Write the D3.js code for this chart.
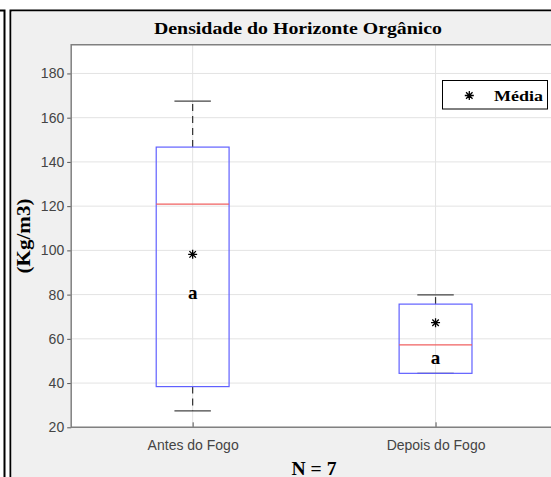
<!DOCTYPE html>
<html><head><meta charset="utf-8">
<script src="https://cdn.jsdelivr.net/npm/d3@7"></script>
<style>html,body{margin:0;padding:0;background:#fff;overflow:hidden;width:551px;height:477px;}svg{display:block;overflow:hidden;}</style>
</head><body>
<script>
const categories = ["Antes do Fogo", "Depois do Fogo"];
const whiskerLow = [27.4, 44.4];
const q1 = [38.4, 44.4];
const medians = [120.9, 57.3];
const q3 = [146.7, 75.7];
const whiskerHigh = [167.5, 79.9];
const means = [98.2, 67.3];
const groupLetters = ["a", "a"];
const letterValues = [80.7, 50.9];
const yTicks = [20, 40, 60, 80, 100, 120, 140, 160, 180];
const titleText = "Densidade do Horizonte Orgânico";
const yLabel = "(Kg/m3)";
const xLabel = "N = 7";
const legendLabel = "Média";

(function () {
const W = 551, H = 477;
const svg = d3.select("body").append("svg").attr("width", W).attr("height", H);
const clip = svg.append("defs").append("clipPath").attr("id", "pg");
clip.append("rect").attr("x", 0).attr("y", 0).attr("width", W).attr("height", H);
const root = svg.append("g").attr("clip-path", "url(#pg)");

const serif = "Liberation Serif, Times New Roman, serif";
const sans = "Liberation Sans, Arial, sans-serif";

// outer frames
root.append("path").attr("d", "M0,10.5 H4.5 V480").attr("fill", "none").attr("stroke", "#000").attr("stroke-width", 2);
root.append("path").attr("d", `M${W + 10},10.5 H10.5 V${H + 10}`).attr("fill", "none").attr("stroke", "#000").attr("stroke-width", 2);
root.append("rect").attr("x", 11.5).attr("y", 11.5).attr("width", W).attr("height", H).attr("fill", "#f0f0f0");

const pL = 71.2, pR = 557, pT = 44.7, pB = 427.3;
const x = d3.scaleLinear().domain([0.5, 2.5]).range([pL, pR]);
const y = d3.scaleLinear().domain([20, 193]).range([pB, pT]);

root.append("rect").attr("x", pL).attr("y", pT).attr("width", W + 20 - pL).attr("height", pB - pT).attr("fill", "#fff");

// grid
const g = root.append("g");
g.selectAll("line.hg").data(yTicks).join("line")
  .attr("x1", pL).attr("x2", W + 20).attr("y1", d => y(d)).attr("y2", d => y(d))
  .attr("stroke", "#e3e3e3").attr("stroke-width", 1);
g.selectAll("line.vg").data(categories).join("line")
  .attr("x1", (d, i) => x(i + 1)).attr("x2", (d, i) => x(i + 1)).attr("y1", pT).attr("y2", pB)
  .attr("stroke", "#e3e3e3").attr("stroke-width", 1);

// axes
const yAxis = d3.axisLeft(y).tickValues(yTicks).tickSize(4).tickPadding(3).tickFormat(d3.format("d"));
const ya = root.append("g").attr("transform", `translate(${pL},0)`).call(yAxis);
ya.select(".domain").remove();
ya.selectAll(".tick line").attr("stroke", "#555");
ya.selectAll(".tick text").attr("fill", "#444").style("font-family", sans).style("font-size", "14px");

const xAxis = d3.axisBottom(x).tickValues([1, 2]).tickSize(-5).tickPadding(13).tickFormat((d) => categories[d - 1]);
const xa = root.append("g").attr("transform", `translate(0,${pB})`).call(xAxis);
xa.select(".domain").remove();
xa.selectAll(".tick line").attr("stroke", "#555");
xa.selectAll(".tick text").attr("fill", "#444").style("font-family", sans).style("font-size", "14px");

// axes box: left, top, bottom edges (right edge lies outside the window)
root.append("path").attr("d", `M${W + 20},${pT} H${pL} V${pB} H${W + 20}`)
  .attr("fill", "none").attr("stroke", "#808080").attr("stroke-width", 1.5);

// boxes
const bw = 0.3, cw = 0.15;
const idx = d3.range(categories.length);
const bx = root.append("g");
idx.forEach(i => {
  const c = x(i + 1);
  bx.append("line").attr("x1", c).attr("x2", c).attr("y1", y(q3[i])).attr("y2", y(whiskerHigh[i]))
    .attr("stroke", "#333").attr("stroke-width", 1.2).attr("stroke-dasharray", "7,5");
  bx.append("line").attr("x1", c).attr("x2", c).attr("y1", y(q1[i])).attr("y2", y(whiskerLow[i]))
    .attr("stroke", "#333").attr("stroke-width", 1.2).attr("stroke-dasharray", "7,5");
  [whiskerHigh[i], whiskerLow[i]].forEach(v => {
    bx.append("line").attr("x1", x(i + 1 - cw / 2)).attr("x2", x(i + 1 + cw / 2)).attr("y1", y(v)).attr("y2", y(v))
      .attr("stroke", "#444").attr("stroke-width", 1.2);
  });
  bx.append("rect").attr("x", x(i + 1 - bw / 2)).attr("y", y(q3[i]))
    .attr("width", x(i + 1 + bw / 2) - x(i + 1 - bw / 2)).attr("height", y(q1[i]) - y(q3[i]))
    .attr("fill", "none").attr("stroke", "#6060ff").attr("stroke-width", 1.2);
  bx.append("line").attr("x1", x(i + 1 - bw / 2)).attr("x2", x(i + 1 + bw / 2)).attr("y1", y(medians[i])).attr("y2", y(medians[i]))
    .attr("stroke", "#f06060").attr("stroke-width", 1.3);
});

function star(sel, cx, cy, r) {
  const d = `M${cx - r},${cy}H${cx + r}M${cx},${cy - r}V${cy + r}` +
    `M${cx - r * 0.72},${cy - r * 0.72}L${cx + r * 0.72},${cy + r * 0.72}` +
    `M${cx - r * 0.72},${cy + r * 0.72}L${cx + r * 0.72},${cy - r * 0.72}`;
  sel.append("path").attr("d", d).attr("stroke", "#000").attr("stroke-width", 1.3).attr("fill", "none");
}
idx.forEach(i => star(bx, x(i + 1), y(means[i]), 4.5));

bx.selectAll("text.let").data(idx).join("text")
  .attr("x", i => x(i + 1)).attr("y", i => y(letterValues[i]) + 5.5)
  .attr("text-anchor", "middle").style("font-family", serif)
  .style("font-weight", "bold").style("font-size", "19px").attr("fill", "#000")
  .text(i => groupLetters[i]);

// legend
root.append("rect").attr("x", 442.5).attr("y", 80.5).attr("width", 105).attr("height", 28.5)
  .attr("fill", "#fff").attr("stroke", "#000").attr("stroke-width", 1);
star(root, 469.3, 95.5, 4.5);
root.append("text").attr("x", 494).attr("y", 101).style("font-family", serif)
  .style("font-weight", "bold").style("font-size", "15px").attr("fill", "#000")
  .attr("textLength", 49).attr("lengthAdjust", "spacingAndGlyphs").text(legendLabel);

// titles
root.append("text").attr("x", 298).attr("y", 33.5).attr("text-anchor", "middle")
  .style("font-family", serif).style("font-weight", "bold").style("font-size", "17.5px")
  .attr("textLength", 288).attr("lengthAdjust", "spacingAndGlyphs")
  .attr("fill", "#000").text(titleText);
root.append("text").attr("transform", "translate(30,236) rotate(-90)").attr("text-anchor", "middle")
  .style("font-family", serif).style("font-weight", "bold").style("font-size", "18px")
  .attr("textLength", 75).attr("lengthAdjust", "spacingAndGlyphs")
  .attr("fill", "#000").text(yLabel);
root.append("text").attr("x", 314).attr("y", 474.5).attr("text-anchor", "middle")
  .style("font-family", serif).style("font-weight", "bold").style("font-size", "18px")
  .attr("textLength", 45).attr("lengthAdjust", "spacingAndGlyphs")
  .attr("fill", "#000").text(xLabel);
})();
</script>
</body></html>
